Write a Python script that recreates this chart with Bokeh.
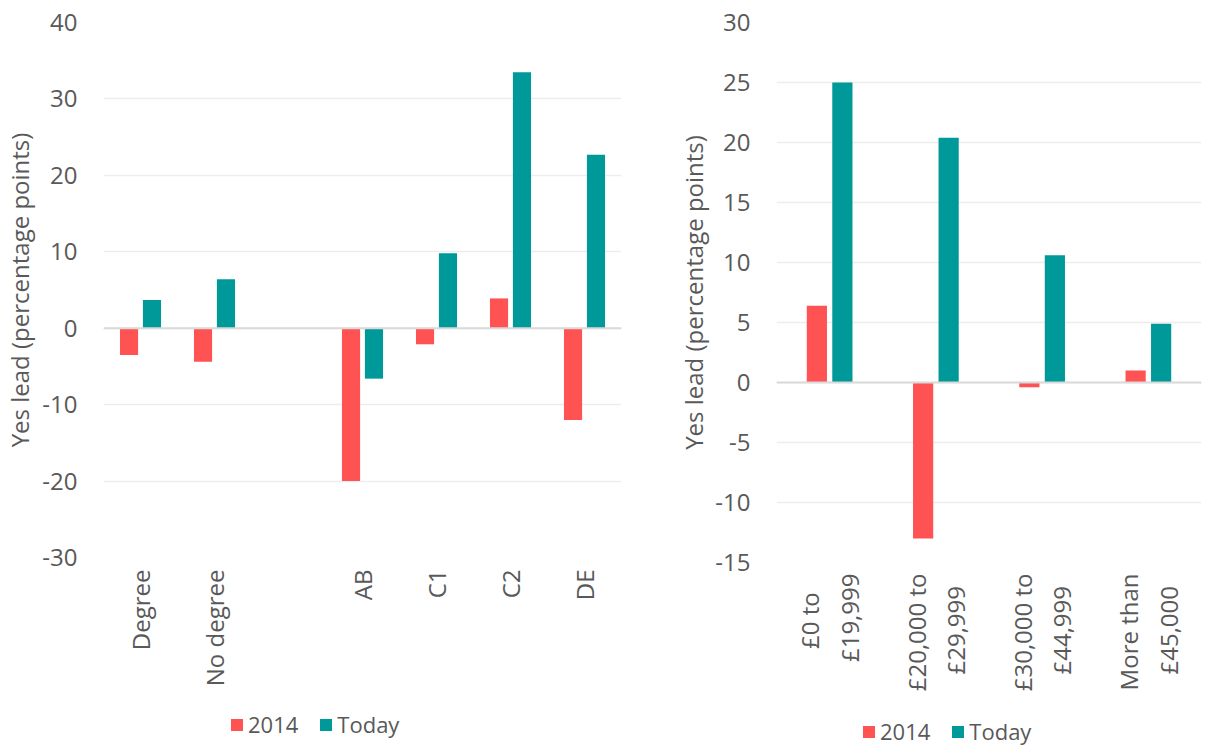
import math
from bokeh.plotting import figure
from bokeh.models import (ColumnDataSource, FactorRange, Range1d, Legend, LegendItem,
                          Span, FixedTicker)
from bokeh.transform import dodge
from bokeh.layouts import row, column
from bokeh.embed import file_html
from bokeh.resources import INLINE

# ---- data ----
left_factors = ["Degree", "No degree", " ", "AB", "C1", "C2", "DE"]
left_cats = ["Degree", "No degree", "AB", "C1", "C2", "DE"]
left_2014 = [-3.5, -4.4, -20.0, -2.1, 3.9, -12.0]
left_today = [3.7, 6.4, -6.6, 9.8, 33.5, 22.7]
left_ticks = [-30, -20, -10, 0, 10, 20, 30, 40]

income_cats = ["£0 to\n£19,999", "£20,000 to\n£29,999", "£30,000 to\n£44,999", "More than\n£45,000"]
income_2014 = [6.4, -13.0, -0.4, 1.0]
income_today = [25.0, 20.4, 10.6, 4.9]
right_ticks = [-15, -10, -5, 0, 5, 10, 15, 20, 25, 30]

series_names = ["2014", "Today"]
RED = "#FF5252"
TEAL = "#009999"
TXT = "#595959"
FONT = "Open Sans"
Y_TITLE = "Yes lead (percentage points)"
NB = "\u00a0"
ZW = "\u200b"


def centred(label, pads):
    # pad the shorter line so both lines of a rotated label sit centred
    a, b = label.split("\n")
    return a + NB * pads[0] + ZW + "\n" + b + NB * pads[1] + ZW


def style(p, ticks, x_standoff, lab_standoff, title_standoff):
    p.yaxis.ticker = FixedTicker(ticks=ticks)
    p.yaxis.major_label_overrides = {t: str(t) for t in ticks}
    p.xgrid.grid_line_color = None
    p.ygrid.grid_line_color = "#EDEDED"
    p.ygrid.grid_line_width = 1.5
    p.outline_line_color = None
    for ax in (p.xaxis[0], p.yaxis[0]):
        ax.axis_line_color = None
        ax.major_tick_line_color = None
        ax.minor_tick_line_color = None
        ax.major_label_text_font = FONT
        ax.major_label_text_font_size = "24px"
        ax.major_label_text_color = TXT
    p.yaxis.axis_label = Y_TITLE
    p.yaxis.axis_label_text_font = FONT
    p.yaxis.axis_label_text_font_size = "24px"
    p.yaxis.axis_label_text_font_style = "normal"
    p.yaxis.axis_label_text_color = TXT
    p.yaxis.major_label_standoff = lab_standoff
    p.yaxis.axis_label_standoff = title_standoff
    p.xaxis.major_label_orientation = math.pi / 2
    p.xaxis.major_label_standoff = x_standoff
    p.add_layout(Span(location=0, dimension="width", line_color="#D9D9D9", line_width=2))


def legend_fig(x_range, src, offset, width, height, loc):
    # legend strip under a chart; its bars share the chart's data but lie outside its y range
    lf = figure(x_range=x_range, y_range=Range1d(1000, 1001), width=width, height=height,
                min_border=0, x_axis_type=None, y_axis_type=None,
                output_backend="svg", toolbar_location=None)
    lf.outline_line_color = None
    lf.grid.grid_line_color = None
    a = lf.vbar(x=dodge("cat", -offset, range=x_range), top="y2014", width=0.1, source=src,
                fill_color=RED, line_color=None)
    b = lf.vbar(x=dodge("cat", offset, range=x_range), top="today", width=0.1, source=src,
                fill_color=TEAL, line_color=None)
    lg = Legend(items=[LegendItem(label=series_names[0], renderers=[a]),
                       LegendItem(label=series_names[1], renderers=[b])],
                orientation="horizontal", location=loc,
                glyph_width=15, glyph_height=15, label_standoff=4, spacing=20,
                label_text_font=FONT, label_text_font_size="22px", label_text_color=TXT,
                border_line_color=None, background_fill_alpha=0, padding=0, margin=0)
    lf.add_layout(lg, "center")
    return lf


# ---- left chart ----
src_l = ColumnDataSource(dict(cat=left_cats, y2014=left_2014, today=left_today))
pl = figure(x_range=FactorRange(factors=left_factors), y_range=Range1d(-30, 40),
            frame_width=518, frame_height=535, min_border_left=96, min_border_right=46,
            min_border_top=22, min_border_bottom=143,
            output_backend="svg", toolbar_location=None)
style(pl, left_ticks, 6, 20, 3)
pl.vbar(x=dodge("cat", -0.155, range=pl.x_range), top="y2014", width=0.245,
        source=src_l, fill_color=RED, line_color=None)
pl.vbar(x=dodge("cat", 0.155, range=pl.x_range), top="today", width=0.245,
        source=src_l, fill_color=TEAL, line_color=None)
leg_l = legend_fig(pl.x_range, src_l, 0.155, 660, 40, (126, 1))

# ---- right chart ----
pad = [(3, 0), (0, 2), (0, 2), (0, 2)]
income_factors = [centred(c, n) for c, n in zip(income_cats, pad)]
src_r = ColumnDataSource(dict(cat=income_factors, y2014=income_2014, today=income_today))
pr = figure(x_range=FactorRange(factors=income_factors), y_range=Range1d(-15, 30),
            frame_width=425, frame_height=540, min_border_left=109, min_border_right=4,
            min_border_top=22, min_border_bottom=152,
            output_backend="svg", toolbar_location=None)
style(pr, right_ticks, 5, 20, 2)
pr.vbar(x=dodge("cat", -0.12, range=pr.x_range), top="y2014", width=0.19,
        source=src_r, fill_color=RED, line_color=None)
pr.vbar(x=dodge("cat", 0.12, range=pr.x_range), top="today", width=0.19,
        source=src_r, fill_color=TEAL, line_color=None)
leg_r = legend_fig(pr.x_range, src_r, 0.12, 538, 32, (85, 0))

layout = row(column(pl, leg_l), column(pr, leg_r))
open("out.html", "w").write(file_html(layout, INLINE))
